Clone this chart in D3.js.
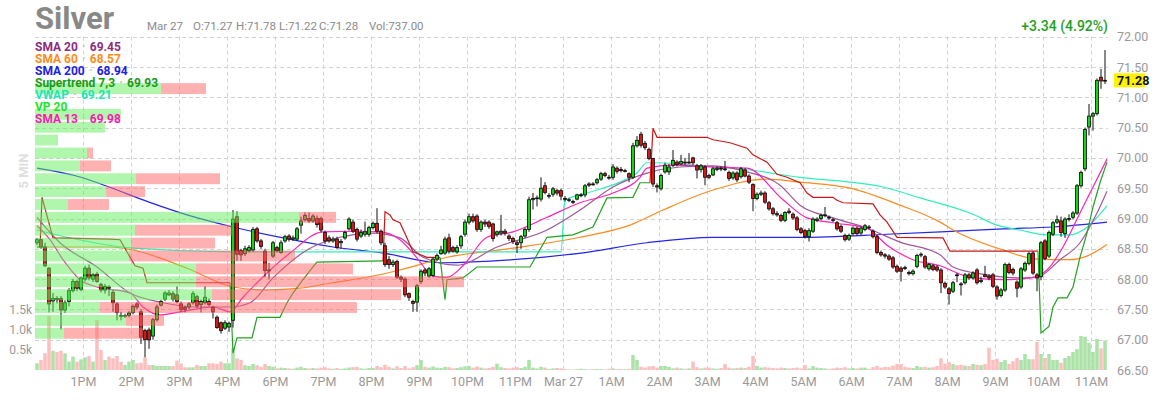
<!DOCTYPE html>
<html><head><meta charset="utf-8">
<script src="https://cdn.jsdelivr.net/npm/d3@7/dist/d3.min.js"></script>
<style>
html,body{margin:0;padding:0;background:#fff;}
svg{display:block;font-family:Roboto,"Noto Sans",sans-serif;}
.ax text{font-family:"Liberation Sans Narrow",Roboto,sans-serif;}
</style></head><body>
<svg id="chart" width="1156" height="400"></svg>
<script>
// ---------------- DATA ----------------
const symbol = "Silver";
const headerItems = ["Mar 27","O:71.27","H:71.78","L:71.22","C:71.28","Vol:737.00"];
const changeText = "+3.34 (4.92%)";
const lastPrice = 71.28;
const intervalLabel = "5 MIN";

const priceTicks = [66.5,67,67.5,68,68.5,69,69.5,70,70.5,71,71.5,72];
const volTicks = [500,1000,1500];
const tickIdx = [12,24,36,48,60,72,84,96,108,120,132,144,156,168,180,192,204,216,228,240,252,264];
const tickLabels = ["1PM","2PM","3PM","4PM","6PM","7PM","8PM","9PM","10PM","11PM","Mar 27","1AM","2AM","3AM","4AM","5AM","6AM","7AM","8AM","9AM","10AM","11AM"];

const opens = [68.60,68.65,68.53,68.18,67.64,67.68,67.68,67.49,67.63,67.81,67.96,67.83,68.00,68.18,68.00,68.08,67.91,67.82,67.87,67.78,67.59,67.40,67.39,67.40,67.45,67.59,67.46,67.15,67.16,67.06,67.33,67.57,67.67,67.74,67.76,67.74,67.59,67.53,67.54,67.61,67.71,67.58,67.61,67.63,67.53,67.37,67.28,67.19,67.21,67.32,69.03,68.47,68.42,68.47,68.48,68.83,68.63,68.46,68.14,68.38,68.52,68.44,68.63,68.71,68.66,68.66,68.89,68.98,69.00,68.96,69.00,69.00,68.77,68.68,68.63,68.66,68.60,68.68,68.83,68.94,68.82,68.71,68.74,68.74,68.85,68.92,68.79,68.55,68.32,68.24,68.29,68.03,68.00,67.76,67.63,67.62,67.96,68.15,68.05,68.06,68.33,68.42,68.43,68.68,68.52,68.45,68.55,68.74,68.94,69.03,69.04,68.82,68.94,68.94,68.91,68.74,68.76,68.79,68.71,68.67,68.60,68.60,68.71,68.82,69.31,69.33,69.32,69.54,69.38,69.40,69.46,69.46,69.33,69.31,69.28,69.32,69.39,69.39,69.57,69.57,69.59,69.65,69.74,69.68,69.68,69.83,69.81,69.79,69.74,69.68,70.20,70.39,70.24,70.14,69.99,69.54,69.49,69.77,69.77,69.88,69.93,69.90,69.93,69.92,70.00,69.87,69.81,69.85,69.71,69.72,69.81,69.83,69.82,69.76,69.67,69.75,69.69,69.80,69.70,69.56,69.33,69.40,69.42,69.26,69.16,69.08,69.05,68.97,69.12,69.07,69.01,68.83,68.80,68.70,68.79,68.97,69.00,69.05,69.02,68.98,68.93,68.87,68.72,68.66,68.75,68.84,68.76,68.82,68.86,68.79,68.70,68.44,68.40,68.38,68.35,68.21,68.18,68.19,68.11,68.09,68.21,68.40,68.37,68.17,68.22,68.20,68.15,67.93,67.84,67.80,68.07,67.92,67.94,68.07,68.02,68.15,67.96,68.07,68.05,68.07,67.87,67.73,67.82,68.24,68.16,67.95,67.87,68.15,68.26,68.43,68.07,68.04,68.63,68.38,68.74,68.94,68.96,68.75,69.00,69.02,69.09,69.54,69.82,70.51,70.69,70.73,71.33,71.27];
const highs = [68.68,68.66,68.60,68.20,67.77,67.72,67.72,67.65,67.85,68.00,67.99,68.04,68.22,68.24,68.10,68.12,67.94,67.92,67.90,67.82,67.62,67.46,67.43,67.47,67.58,67.62,67.50,67.18,67.20,67.36,67.58,67.66,67.80,67.82,67.80,67.88,67.63,67.56,67.62,67.80,67.74,67.66,67.88,67.68,67.56,67.40,67.30,67.32,67.30,69.14,69.12,68.50,68.55,68.56,68.86,68.86,68.66,68.50,68.27,68.63,68.55,68.64,68.73,68.74,68.72,68.86,69.03,69.10,69.10,69.07,69.05,69.03,68.80,68.72,68.70,68.70,68.66,68.80,69.02,68.98,68.85,68.82,68.95,68.88,68.95,69.17,68.82,68.60,68.38,68.32,68.32,68.06,68.03,67.78,67.66,67.92,68.16,68.18,68.20,68.36,68.42,68.55,68.70,68.75,68.55,68.56,68.73,68.98,69.08,69.08,69.07,68.97,68.98,68.97,68.93,68.80,69.06,68.83,68.74,68.70,68.63,68.73,68.85,69.36,69.42,69.38,69.68,69.60,69.42,69.52,69.49,69.49,69.37,69.34,69.31,69.41,69.42,69.57,69.60,69.60,69.67,69.77,69.77,69.72,69.90,69.86,69.85,69.82,69.76,70.25,70.36,70.43,70.28,70.17,70.00,69.58,69.74,69.92,69.90,70.13,69.96,70.05,70.00,70.08,70.02,69.90,69.90,69.88,69.74,69.85,69.86,69.86,69.95,69.79,69.78,69.78,69.85,69.83,69.73,69.58,69.43,69.46,69.45,69.29,69.19,69.12,69.08,69.12,69.17,69.10,69.04,68.86,68.83,68.84,69.02,69.02,69.08,69.19,69.05,69.01,68.96,68.90,68.75,68.75,68.87,68.87,68.87,68.91,68.89,68.82,68.73,68.47,68.43,68.41,68.38,68.24,68.21,68.22,68.14,68.16,68.42,68.44,68.40,68.27,68.25,68.23,68.18,67.96,67.87,67.97,68.10,67.95,68.10,68.10,68.13,68.18,68.04,68.22,68.08,68.10,67.90,67.85,68.27,68.27,68.19,67.98,68.20,68.29,68.45,68.46,68.10,68.63,68.66,68.80,68.96,69.05,69.03,69.02,69.07,69.12,69.57,69.79,70.50,70.89,70.76,71.31,71.47,71.78];
const lows = [68.56,68.50,68.20,67.45,67.46,67.60,67.17,67.44,67.55,67.78,67.80,67.80,67.96,67.98,67.95,67.94,67.78,67.76,67.72,67.46,67.32,67.32,67.36,67.37,67.42,67.50,66.93,66.71,66.85,67.00,67.30,67.55,67.64,67.72,67.63,67.60,67.46,67.45,67.50,67.58,67.52,67.45,67.58,67.55,67.35,67.18,67.10,67.16,67.13,67.20,68.30,68.30,68.38,68.44,68.45,68.60,68.50,68.03,68.00,68.35,68.44,68.42,68.60,68.62,68.63,68.63,68.75,68.95,68.93,68.93,68.85,68.77,68.58,68.60,68.60,68.50,68.50,68.65,68.80,68.76,68.62,68.68,68.70,68.70,68.82,68.76,68.56,68.20,68.17,68.20,68.00,67.95,67.70,67.64,67.46,67.46,67.92,68.05,68.02,68.03,68.30,68.40,68.40,68.42,68.44,68.42,68.50,68.70,68.90,68.93,68.78,68.78,68.86,68.83,68.62,68.70,68.72,68.72,68.63,68.58,68.43,68.50,68.68,68.78,69.15,69.20,69.28,69.40,69.33,69.36,69.38,69.30,69.28,69.27,69.24,69.30,69.35,69.35,69.52,69.54,69.56,69.62,69.68,69.64,69.64,69.74,69.76,69.76,69.60,69.65,70.17,70.17,70.13,69.96,69.52,69.43,69.46,69.74,69.72,69.85,69.86,69.88,69.88,69.90,69.88,69.66,69.76,69.55,69.65,69.70,69.78,69.78,69.78,69.62,69.64,69.60,69.66,69.68,69.57,69.12,69.30,69.37,69.24,69.13,69.05,69.03,68.94,68.94,69.07,68.98,68.79,68.74,68.67,68.62,68.76,68.94,68.97,69.02,68.98,68.94,68.80,68.76,68.62,68.63,68.72,68.72,68.73,68.79,68.82,68.67,68.41,68.37,68.34,68.30,68.17,68.10,67.96,68.15,68.06,68.06,68.18,68.36,68.17,68.14,68.13,68.12,67.77,67.84,67.58,67.77,67.95,67.73,67.91,67.99,67.99,67.91,67.93,68.03,67.98,67.85,67.66,67.70,67.79,68.08,68.06,67.70,67.84,68.12,68.23,68.07,67.80,67.98,68.31,68.35,68.71,68.91,68.70,68.68,68.95,68.99,69.06,69.51,69.78,70.37,70.45,70.70,71.14,71.22];
const closes = [68.65,68.53,68.22,67.59,67.68,67.66,67.49,67.61,67.81,67.96,67.85,68.02,68.18,68.02,68.07,67.96,67.82,67.88,67.85,67.61,67.45,67.39,67.40,67.44,67.55,67.54,67.04,67.00,67.00,67.33,67.54,67.63,67.77,67.77,67.67,67.63,67.50,67.50,67.59,67.76,67.56,67.63,67.70,67.58,67.46,67.20,67.15,67.28,67.27,68.99,68.41,68.40,68.50,68.52,68.82,68.63,68.54,68.14,68.15,68.60,68.47,68.60,68.70,68.66,68.68,68.83,68.96,69.05,68.96,69.04,68.90,68.81,68.63,68.63,68.66,68.52,68.62,68.77,68.99,68.79,68.66,68.77,68.78,68.85,68.92,68.79,68.60,68.24,68.24,68.28,68.03,68.00,67.74,67.70,67.60,67.89,68.13,68.10,68.17,68.33,68.39,68.48,68.66,68.46,68.46,68.52,68.70,68.94,69.03,68.96,68.82,68.94,68.91,68.87,68.67,68.78,68.79,68.76,68.67,68.62,68.57,68.70,68.82,69.31,69.33,69.34,69.50,69.43,69.38,69.49,69.42,69.37,69.32,69.31,69.27,69.39,69.39,69.54,69.55,69.57,69.64,69.74,69.71,69.67,69.85,69.78,69.79,69.79,69.68,70.20,70.29,70.21,70.17,69.99,69.57,69.52,69.71,69.88,69.85,69.96,69.89,69.94,69.92,69.93,69.92,69.80,69.87,69.68,69.68,69.82,69.83,69.82,69.81,69.66,69.75,69.64,69.82,69.70,69.60,69.33,69.40,69.42,69.27,69.16,69.08,69.06,68.97,69.10,69.10,69.01,68.82,68.77,68.70,68.80,68.99,68.99,69.05,69.06,69.01,68.97,68.83,68.79,68.65,68.72,68.84,68.75,68.84,68.88,68.85,68.70,68.44,68.40,68.38,68.33,68.20,68.13,68.13,68.18,68.09,68.13,68.39,68.41,68.20,68.24,68.16,68.15,67.94,67.87,67.76,67.94,68.06,67.91,68.07,68.02,68.10,67.94,67.98,68.04,68.02,67.88,67.72,67.82,68.24,68.11,68.10,67.85,68.17,68.26,68.42,68.10,68.02,68.60,68.34,68.77,68.93,68.98,68.77,68.99,69.00,69.09,69.54,69.76,70.47,70.69,70.73,71.28,71.27,71.28];
const volumes = [167,250,417,1350,480,450,480,417,208,333,208,267,317,350,208,1250,500,250,333,292,350,208,125,208,250,167,183,317,125,125,100,100,100,100,100,233,167,67,67,67,125,100,100,167,167,150,208,167,167,540,290,250,120,100,150,120,80,150,100,80,40,60,50,40,30,60,80,50,40,50,40,60,70,40,30,50,30,40,60,70,80,40,30,50,50,100,70,130,80,40,90,50,100,40,70,120,250,80,60,90,60,50,80,70,40,50,70,90,100,60,90,60,40,50,80,160,70,50,40,60,70,50,80,250,60,40,80,60,30,40,50,40,20,15,15,20,30,20,15,20,25,20,15,30,40,25,20,20,30,375,250,80,60,90,100,60,100,100,80,40,60,40,30,40,208,70,40,60,60,40,30,50,150,60,40,50,60,50,80,350,100,60,70,60,50,40,60,50,40,50,60,40,125,40,100,60,50,40,30,40,60,50,70,40,50,40,60,60,30,70,100,60,80,70,110,150,150,80,60,50,100,70,80,60,70,100,292,160,200,150,120,130,110,100,150,130,120,150,558,250,280,200,250,150,220,300,250,400,270,270,700,400,300,400,250,250,180,300,350,450,520,850,830,680,450,780,540,737];

// indicator lines: [bar index, value]
const sma20 = [[0,69.02],[5.75,68.6],[15,68.2],[23.25,67.77],[31.5,67.61],[40,67.54],[48.25,67.54],[53.25,67.61],[59,68.02],[67.5,68.48],[75.75,68.69],[84,68.76],[90.75,68.68],[96.5,68.36],[105,68.23],[115,68.53],[127.5,68.81],[135.75,69.14],[144,69.52],[152.5,69.75],[160.75,69.85],[169,69.87],[177.5,69.77],[185.75,69.55],[190.75,69.22],[199,69.01],[207.5,68.84],[215.75,68.61],[225.75,68.4],[229,68.2],[237.5,68.07],[245.75,68.02],[250,68.03],[255.75,68.32],[260.75,68.6],[265,69.09],[267.5,69.45]];
const sma60 = [[0,68.53],[18.25,68.53],[24,68.48],[37.5,68.18],[49,67.87],[57.5,67.82],[65.75,67.85],[74,67.94],[82.5,68.03],[90.75,68.15],[102.5,68.36],[119,68.51],[135.75,68.69],[148.25,68.89],[156.5,69.14],[169,69.47],[182.5,69.65],[190.75,69.6],[203.25,69.5],[215.75,69.22],[225.75,68.94],[229,68.81],[241.5,68.48],[250,68.33],[258.25,68.32],[262.5,68.38],[267.5,68.57]];
const sma200 = [[0,69.83],[11,69.68],[18,69.52],[28,69.27],[37.5,69.06],[49,68.86],[61.5,68.68],[74,68.53],[86.5,68.43],[101,68.27],[119,68.32],[136,68.43],[152.5,68.6],[169,68.69],[191,68.69],[212.5,68.74],[226,68.78],[241.5,68.83],[254,68.86],[267.5,68.94]];
const sma13 = [[0,68.88],[3.25,68.65],[6.5,68.32],[10.75,67.99],[15,67.87],[23.25,67.77],[26.5,67.54],[30.75,67.41],[35.75,67.46],[44,67.54],[48.25,67.46],[51.5,67.7],[55,67.94],[63.25,68.43],[71.5,68.78],[80,68.79],[85.75,68.78],[90.75,68.65],[95,68.35],[99,68.05],[102.5,68.03],[106.5,68.22],[112.5,68.69],[119,68.78],[127.5,69.02],[135.75,69.26],[144,69.42],[150.75,69.68],[152.5,69.83],[159,69.88],[169,69.85],[177.5,69.83],[186.5,69.31],[192.5,69.01],[199,68.93],[207.5,68.84],[212.5,68.56],[219,68.32],[225.75,68.22],[233.25,68.03],[241.5,67.99],[248.25,68.02],[252.5,68.15],[256.5,68.53],[260.75,69.09],[264,69.52],[267.5,69.98]];
const vwap = [[0,68.81],[7.5,68.69],[24,68.51],[49,68.45],[74,68.45],[131,68.45],[132,69.3],[137.5,69.42],[145.75,69.6],[150,69.75],[152.5,69.92],[155,69.92],[165.75,69.87],[178.25,69.8],[190.75,69.68],[203.25,69.6],[211.5,69.52],[220.75,69.34],[233.25,69.09],[240,68.89],[245.75,68.81],[252.5,68.73],[258.25,68.73],[261.5,68.81],[267.5,69.21]];
// supertrend: [bar index, value, direction (1 up / -1 down)]
const supertrend = [[0,68.53,1],[0.75,68.53,1],
 [1.25,69.35,-1],[4,68.68,-1],[18.25,68.66,-1],[20.75,68.65,-1],[24.5,68.22,-1],[26.5,68.18,-1],[27.5,67.94,-1],[48.25,67.94,-1],
 [49,66.78,1],[50,67.03,1],[53.75,67.03,1],[55,67.37,1],[60.75,67.37,1],[62.5,67.61,1],[64,67.77,1],[66.5,67.99,1],[69,68.2,1],[70,68.28,1],[86.5,68.3,1],
 [87,69.11,-1],[88.25,69.06,-1],[89,68.98,-1],[90.75,68.93,-1],[92.5,68.68,-1],[94,68.45,-1],[97.5,68.36,-1],[100.75,68.36,-1],
 [102,67.66,1],[102.5,67.99,1],[106.5,68.02,1],[110,68.2,1],[123.25,68.2,1],[127.5,68.69,1],[134,68.73,1],[139,68.86,1],[142.5,69.34,1],[149,69.35,1],[150.75,69.59,1],[153.25,69.59,1],
 [154,70.49,-1],[155,70.34,-1],[167.5,70.34,-1],[169,70.3,-1],[173.25,70.25,-1],[177.5,70.16,-1],[179,70.05,-1],[182.5,69.93,-1],[185,69.73,-1],[187.5,69.68,-1],[190.75,69.59,-1],[192.5,69.42,-1],[194,69.35,-1],[199,69.35,-1],[200,69.3,-1],[201.5,69.26,-1],[209,69.24,-1],[210.75,69.06,-1],[212.5,68.94,-1],[215,68.69,-1],[226.5,68.68,-1],[228.25,68.46,-1],[250.25,68.46,-1],
 [251,67.11,1],[253,67.22,1],[254,67.54,1],[255.25,67.69,1],[257.5,67.69,1],[259,67.87,1],[260.75,68.36,1],[262.5,68.76,1],[264,69.19,1],[265.75,69.59,1],[267.5,69.93,1]];

// volume profile (20 rows, top price row first)
const vpHigh = 71.25, vpLow = 67.0;
const vpUp   = [126,0,86,70,23,52,45,101,71,33,264,100,96,94,161,161,177,65,91,29];
const vpDown = [45,0,0,0,0,6,31,84,39,41,37,97,84,166,157,268,189,257,38,79];

const legendNames  = ["SMA 20","SMA 60","SMA 200","Supertrend 7,3","VWAP","VP 20","SMA 13"];
const legendValues = ["69.45","68.57","68.94","69.93","69.21","","69.98"];

// ---------------- STYLE / LAYOUT ----------------
const legendColors = ["#8e2c80","#ff8c1a","#2020e6","#169a16","#1ee6b4","#22e622","#ff19b2"];
const lineColors = {sma20:"#a0589a", sma60:"#ff8a1e", sma200:"#2424ea", sma13:"#ff22b8", vwap:"#2ef0bc", stUp:"#22a322", stDown:"#c81818"};

const svg = d3.select("#chart");
const left = 35, right = 1107, base = 370;
const x = d3.scaleLinear().domain([0, opens.length]).range([left, right]);
const y = d3.scaleLinear().domain([66.5, 72]).range([base, 36.7]);
const yv = d3.scaleLinear().domain([0, 1500]).range([base, 310]);
const bw = x(1) - x(0);
const cx = i => x(i + 0.5);

// grid
const grid = svg.append("g").attr("stroke","#d2d2d2").attr("stroke-dasharray","4,3").attr("stroke-width",1);
grid.selectAll("line.h").data(priceTicks.filter(v => v > 66.5)).join("line")
  .attr("x1", left).attr("x2", right + 1)
  .attr("y1", d => Math.round(y(d)) + 0.5).attr("y2", d => Math.round(y(d)) + 0.5);
grid.selectAll("line.v").data(tickIdx).join("line")
  .attr("x1", d => Math.round(x(d)) + 0.5).attr("x2", d => Math.round(x(d)) + 0.5)
  .attr("y1", y(72)).attr("y2", base);

// volume bars
svg.append("g").selectAll("rect").data(volumes).join("rect")
  .attr("x", (d,i) => x(i) + 0.25).attr("width", bw - 0.5)
  .attr("y", d => yv(d)).attr("height", d => base - yv(d))
  .attr("fill", (d,i) => closes[i] >= opens[i] ? "#abe2a6" : "#fbbfbf");

// indicator lines
const lineGen = d3.line().x(d => cx(d[0])).y(d => y(d[1])).curve(d3.curveMonotoneX);
const lg = svg.append("g").attr("fill","none").attr("stroke-width",1.2);
[[sma200,lineColors.sma200],[sma60,lineColors.sma60],[vwap,lineColors.vwap],[sma20,lineColors.sma20],[sma13,lineColors.sma13]]
  .forEach(([data,col]) => lg.append("path").attr("d", lineGen(data)).attr("stroke", col));

// supertrend segments
const segs = [];
supertrend.forEach((p, k) => {
  if (k === 0 || p[2] !== supertrend[k-1][2]) {
    const seg = {dir: p[2], pts: []};
    if (k > 0) seg.pts.push(supertrend[k-1]);
    segs.push(seg);
  }
  segs[segs.length-1].pts.push(p);
});
const stLine = d3.line().x(d => cx(d[0])).y(d => y(d[1]));
segs.forEach(s => lg.append("path").attr("d", stLine(s.pts))
  .attr("stroke", s.dir > 0 ? lineColors.stUp : lineColors.stDown));

// candles
const cg = svg.append("g");
const idx = d3.range(opens.length);
cg.selectAll("line").data(idx).join("line")
  .attr("x1", i => cx(i)).attr("x2", i => cx(i))
  .attr("y1", i => y(highs[i])).attr("y2", i => y(lows[i]))
  .attr("stroke", "#111").attr("stroke-width", 1);
cg.selectAll("rect").data(idx).join("rect")
  .attr("x", i => cx(i) - 1.4).attr("width", 2.8)
  .attr("y", i => y(Math.max(opens[i], closes[i])))
  .attr("height", i => Math.max(0.8, Math.abs(y(opens[i]) - y(closes[i]))))
  .attr("fill", i => closes[i] >= opens[i] ? "#14e014" : "#ec1414")
  .attr("stroke", "#111").attr("stroke-width", 0.9);

// volume profile
const rowH = (vpHigh - vpLow) / vpUp.length;
const vpW = d3.scaleLinear().domain([0, d3.max(vpUp.map((u,k) => u + vpDown[k]))]).range([0, 429]);
const vpg = svg.append("g");
vpUp.forEach((u, k) => {
  const top = y(vpHigh - k * rowH) + 1, bot = y(vpHigh - (k + 1) * rowH) - 1;
  if (u > 0) vpg.append("rect").attr("x", left).attr("y", top).attr("width", vpW(u)).attr("height", bot - top)
    .attr("fill", "rgba(100,238,92,0.5)");
  if (vpDown[k] > 0) vpg.append("rect").attr("x", left + vpW(u)).attr("y", top).attr("width", vpW(vpDown[k])).attr("height", bot - top)
    .attr("fill", "rgba(255,100,100,0.5)");
});

// right price axis
const ay = svg.append("g").attr("class","ax").attr("transform", `translate(${right + 8},0)`)
  .call(d3.axisRight(y).tickValues(priceTicks).tickFormat(d3.format(".2f")).tickSize(0).tickPadding(2));
ay.select(".domain").remove();
ay.selectAll("text").attr("fill","#999").attr("font-size","12.5px");

// price tag
const tagY = y(lastPrice);
svg.append("rect").attr("x", right + 7).attr("y", tagY - 7).attr("width", 31).attr("height", 14).attr("fill", "#fff200");
svg.append("text").attr("class","ax").attr("x", right + 10).attr("y", tagY).attr("dy","0.35em")
  .attr("font-size","12.5px").attr("font-weight","bold").attr("fill","#111")
  .style("font-family",'"Liberation Sans Narrow",Roboto,sans-serif').text(d3.format(".2f")(lastPrice));

// bottom time axis
const ax = svg.append("g").attr("class","ax").attr("transform", `translate(0,${base + 5})`)
  .call(d3.axisBottom(x).tickValues(tickIdx).tickFormat((d,i) => tickLabels[i]).tickSize(0).tickPadding(2));
ax.select(".domain").remove();
ax.selectAll("text").attr("fill","#999").attr("font-size","12.5px");

// volume axis
const av = svg.append("g").attr("class","ax").attr("transform", `translate(${left - 2},0)`)
  .call(d3.axisLeft(yv).tickValues(volTicks).tickFormat(d => (d/1000).toFixed(1) + "k").tickSize(0).tickPadding(1));
av.select(".domain").remove();
av.selectAll("text").attr("fill","#999").attr("font-size","12px");

// header
svg.append("text").attr("x", left).attr("y", 29).attr("font-size", 31).attr("font-weight", 700)
  .attr("fill", "#888").text(symbol);
const hx = [147, 193, 236, 279, 319, 369];
headerItems.forEach((t, k) => svg.append("text").attr("class","hd").attr("x", hx[k]).attr("y", 30)
  .attr("font-size", 11.5).attr("fill", "#8a8a8a").text(t));
svg.append("text").attr("x", right + 1).attr("y", 31).attr("text-anchor","end")
  .attr("font-size", 14).attr("font-weight", 500).attr("fill", "#22a022").text(changeText);

// interval label
svg.append("text").attr("transform", "translate(28,171) rotate(-90)").attr("text-anchor","middle")
  .attr("font-size", 13).attr("font-weight", 700).attr("fill", "#dedede").text(intervalLabel);

// legend
legendNames.forEach((n, k) => {
  const yy = 51 + 12 * k;
  const t = svg.append("text").attr("x", left).attr("y", yy).attr("font-size", 12).attr("font-weight", 700)
    .attr("fill", legendColors[k]).text(n);
  if (legendValues[k]) {
    const L = t.node().getComputedTextLength();
    svg.append("text").attr("x", left + L + 6).attr("y", yy).attr("text-anchor","middle").attr("font-size", 12)
      .attr("font-weight", 700).attr("fill", "#c4c4c4").text("·");
    svg.append("text").attr("x", left + L + 12).attr("y", yy).attr("font-size", 12).attr("font-weight", 700)
      .attr("fill", legendColors[k]).text(legendValues[k]);
  }
});
</script>
</body></html>
